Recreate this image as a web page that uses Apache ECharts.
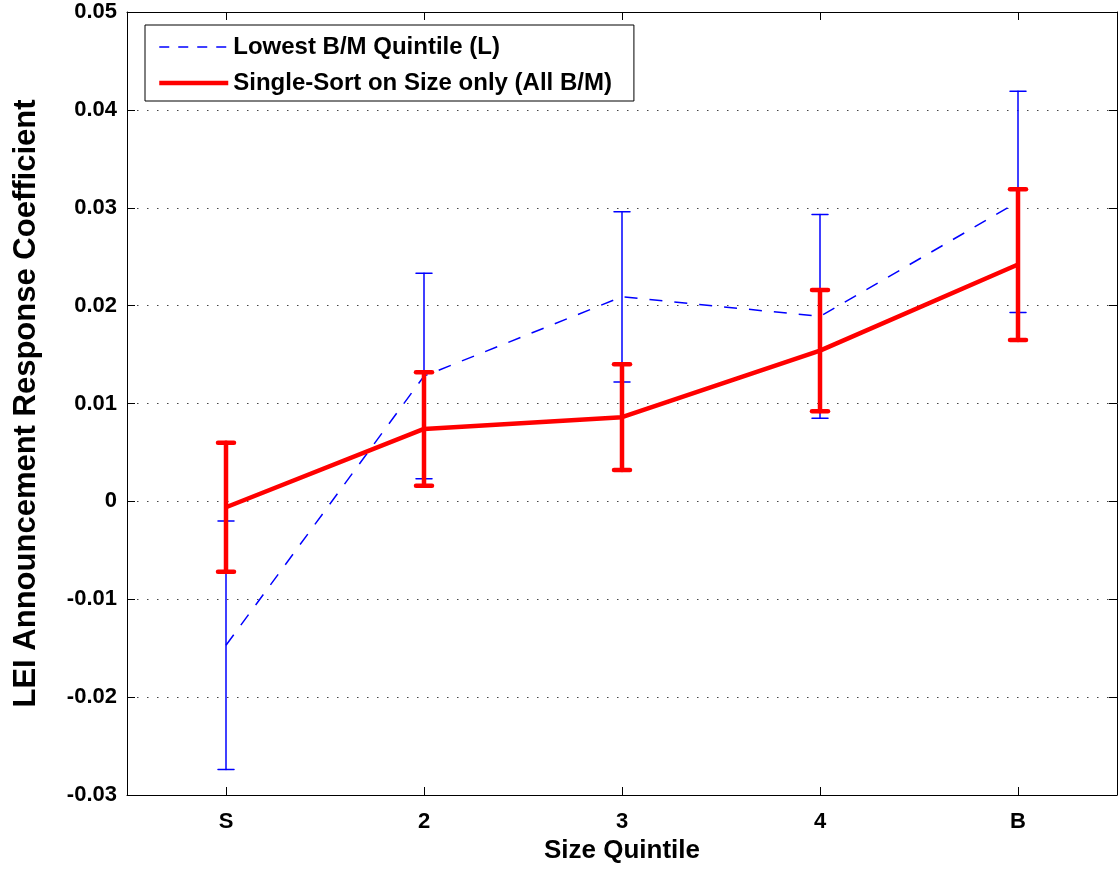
<!DOCTYPE html>
<html>
<head>
<meta charset="utf-8">
<script src="https://cdn.jsdelivr.net/npm/echarts@6/dist/echarts.min.js"></script>
<style>html,body{margin:0;padding:0;background:#fff}#c{width:1119px;height:869px}</style>
</head>
<body>
<div id="c"></div>
<script>
var categories = ['S', '2', '3', '4', 'B'];
var lowName = 'Lowest B/M Quintile (L)';
var lowMean = [-0.0147, 0.0128, 0.0209, 0.0189, 0.0306];
var lowErr  = [0.0127, 0.0105, 0.0087, 0.0104, 0.0113];
var allName = 'Single-Sort on Size only (All B/M)';
var allMean = [-0.0006, 0.0074, 0.0086, 0.0154, 0.0242];
var allErr  = [0.0066, 0.0058, 0.0054, 0.0062, 0.0077];

var FONT = '"Liberation Sans", Arial, sans-serif';

function errData(mean, err) {
  return mean.map(function (m, i) { return [i, m - err[i], m + err[i]]; });
}
function errRender(color, lw, capHalf) {
  return function (params, api) {
    var x = api.value(0);
    var lo = api.coord([x, api.value(1)]);
    var hi = api.coord([x, api.value(2)]);
    var st = { stroke: color, lineWidth: lw, lineCap: 'round' };
    return {
      type: 'group',
      children: [
        { type: 'line', shape: { x1: lo[0], y1: lo[1], x2: hi[0], y2: hi[1] }, style: st },
        { type: 'line', shape: { x1: lo[0] - capHalf, y1: lo[1], x2: lo[0] + capHalf, y2: lo[1] }, style: st },
        { type: 'line', shape: { x1: hi[0] - capHalf, y1: hi[1], x2: hi[0] + capHalf, y2: hi[1] }, style: st }
      ]
    };
  };
}

var chart = echarts.init(document.getElementById('c'), null, { renderer: 'canvas' });
var axisLine = { show: true, onZero: false, lineStyle: { color: '#000', width: 1 } };
chart.setOption({
  animation: false,
  backgroundColor: '#fff',
  textStyle: { fontFamily: FONT },
  grid: { left: 127, right: 2, top: 12, bottom: 74, containLabel: false },
  legend: {
    left: 145, top: 25,
    orient: 'vertical',
    data: [
      { name: lowName, lineStyle: { width: 1.5, type: [10, 9] } },
      { name: allName, lineStyle: { width: 4.5 } }
    ],
    itemWidth: 69, itemHeight: 14, itemGap: 12,
    padding: [10, 22, 6, 12],
    borderColor: '#000', borderWidth: 1, borderRadius: 0,
    backgroundColor: '#fff',
    itemStyle: { opacity: 0 },
    textStyle: { fontFamily: FONT, fontWeight: 'bold', fontSize: 24, color: '#000' }
  },
  xAxis: [{
    type: 'category', data: categories, boundaryGap: true,
    axisLine: axisLine,
    axisTick: { show: true, inside: true, alignWithLabel: true, length: 8, lineStyle: { color: '#000' } },
    axisLabel: { fontFamily: FONT, fontWeight: 'bold', fontSize: 22, color: '#000', margin: 16 },
    splitLine: { show: false },
    name: 'Size Quintile', nameLocation: 'middle', nameGap: 42,
    nameTextStyle: { fontFamily: FONT, fontWeight: 'bold', fontSize: 26, color: '#000' }
  }, {
    type: 'category', data: categories, boundaryGap: true, position: 'top',
    axisLine: axisLine,
    axisTick: { show: true, inside: true, alignWithLabel: true, length: 8, lineStyle: { color: '#000' } },
    axisLabel: { show: false }, splitLine: { show: false }
  }],
  yAxis: [{
    type: 'value', min: -0.03, max: 0.05, interval: 0.01,
    axisLine: axisLine,
    axisTick: { show: true, inside: true, length: 8, lineStyle: { color: '#000' } },
    axisLabel: { fontFamily: FONT, fontWeight: 'bold', fontSize: 22, color: '#000', margin: 10 },
    splitLine: { show: true, lineStyle: { color: '#444', type: [1.5, 8.5], width: 1 } },
    name: 'LEI Announcement Response Coefficient', nameLocation: 'middle', nameGap: 85,
    nameTextStyle: { fontFamily: FONT, fontWeight: 'bold', fontSize: 31, color: '#000' }
  }, {
    type: 'value', min: -0.03, max: 0.05, interval: 0.01, position: 'right',
    axisLine: axisLine,
    axisTick: { show: true, inside: true, length: 8, lineStyle: { color: '#000' } },
    axisLabel: { show: false }, splitLine: { show: false }
  }],
  series: [
    {
      name: lowName, type: 'line', data: lowMean, symbol: 'none', z: 2,
      lineStyle: { color: '#0000ff', width: 1.5, type: [13, 12] },
      itemStyle: { color: '#0000ff' }
    },
    {
      name: lowName + ' err', type: 'custom', data: errData(lowMean, lowErr), z: 2,
      renderItem: errRender('#0000ff', 1.5, 8), encode: { x: 0, y: [1, 2] }
    },
    {
      name: allName, type: 'line', data: allMean, symbol: 'none', z: 4,
      lineStyle: { color: '#ff0000', width: 4.5 },
      itemStyle: { color: '#ff0000' }
    },
    {
      name: allName + ' err', type: 'custom', data: errData(allMean, allErr), z: 4,
      renderItem: errRender('#ff0000', 4.5, 8), encode: { x: 0, y: [1, 2] }
    }
  ]
});
</script>
</body>
</html>
